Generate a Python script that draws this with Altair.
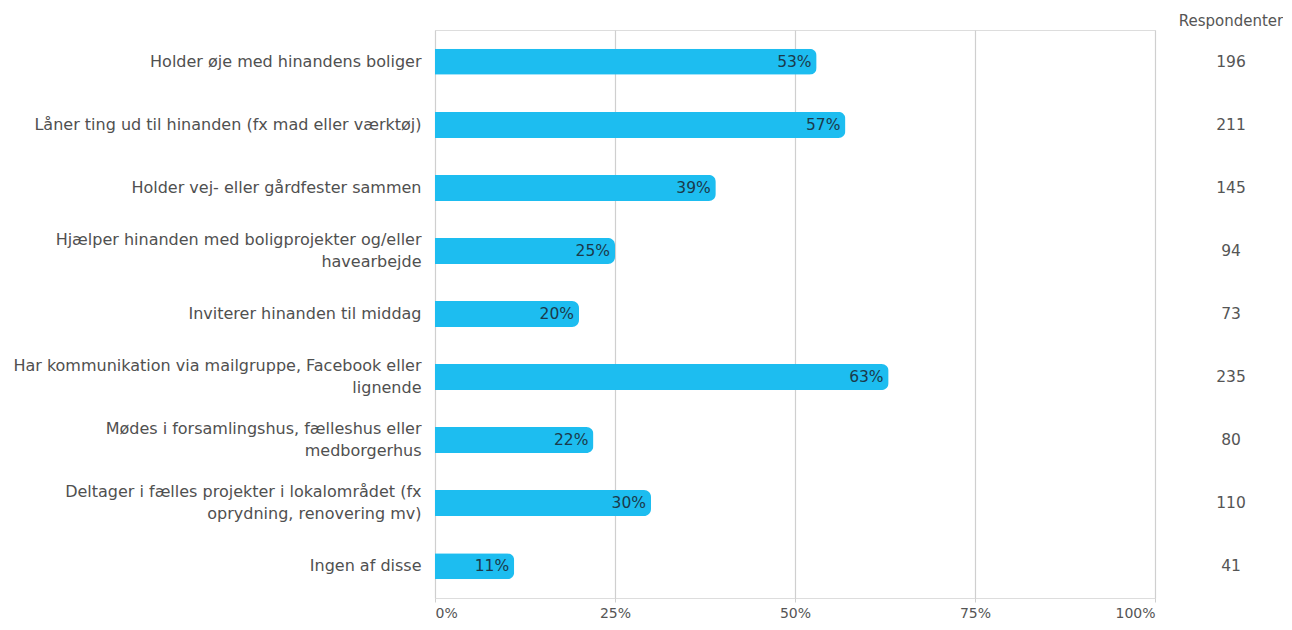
import altair as alt
import pandas as pd

categories = [
    "Holder øje med hinandens boliger",
    "Låner ting ud til hinanden (fx mad eller værktøj)",
    "Holder vej- eller gårdfester sammen",
    "Hjælper hinanden med boligprojekter og/eller\nhavearbejde",
    "Inviterer hinanden til middag",
    "Har kommunikation via mailgruppe, Facebook eller\nlignende",
    "Mødes i forsamlingshus, fælleshus eller\nmedborgerhus",
    "Deltager i fælles projekter i lokalområdet (fx\noprydning, renovering mv)",
    "Ingen af disse",
]
shares = [0.53, 0.57, 0.39, 0.25, 0.20, 0.63, 0.22, 0.30, 0.11]
respondents = [196, 211, 145, 94, 73, 235, 80, 110, 41]
tick_values = [0, 0.25, 0.5, 0.75, 1.0]

df = pd.DataFrame({"cat": categories, "share": shares, "n": respondents})

FONT = "DejaVu Sans"
y = alt.Y("cat:N", sort=categories, title=None,
          scale=alt.Scale(paddingInner=0.59, paddingOuter=0.3),
          axis=alt.Axis(labelExpr="split(datum.label, '\\n')", labelFontSize=16,
                        labelColor="#505050", labelPadding=14, ticks=False,
                        domain=False, labelFont=FONT, labelLimit=430,
                        labelLineHeight=22,
                        labelOffset={"condition": {"test": "indexof(datum.value, '\\n') >= 0",
                                                   "value": -11}, "value": 0}))
x = alt.X("share:Q", title=None,
          scale=alt.Scale(domain=[0, 1], nice=False),
          axis=alt.Axis(values=tick_values, format=".0%", grid=True,
                        gridColor="#cfcfcf", gridWidth=1.2, domain=False,
                        ticks=True, tickColor="#cfcfcf", tickSize=4,
                        labelFontSize=14, labelColor="#555555", labelFont=FONT,
                        labelPadding=4))

bars = alt.Chart(df).mark_bar(color="#1DBDF0", size=26, cornerRadiusEnd=7).encode(x=x, y=y)
labels = alt.Chart(df).mark_text(align="right", dx=-5, fontSize=15.5, color="#1b3a4b",
                                 font=FONT).encode(
    x="share:Q", y=alt.Y("cat:N", sort=categories), text=alt.Text("share:Q", format=".0%"))
counts = alt.Chart(df).mark_text(align="center", fontSize=15.5, color="#555555",
                                 font=FONT).encode(
    x=alt.value(796), y=alt.Y("cat:N", sort=categories), text="n:Q")
header = alt.Chart(pd.DataFrame({"t": ["Respondenter"]})).mark_text(
    align="center", fontSize=15, color="#555555", font=FONT).encode(
    x=alt.value(796), y=alt.value(-9), text="t:N")

chart = alt.layer(bars, labels, counts, header).properties(
    width=720, height=568,
    autosize=alt.AutoSizeParams(type="none"),
    padding={"left": 427, "top": 22, "right": 128, "bottom": 24},
).configure_view(stroke=None).configure(background="white")

chart.save("out.html", embed_options={"renderer": "svg", "actions": False})
